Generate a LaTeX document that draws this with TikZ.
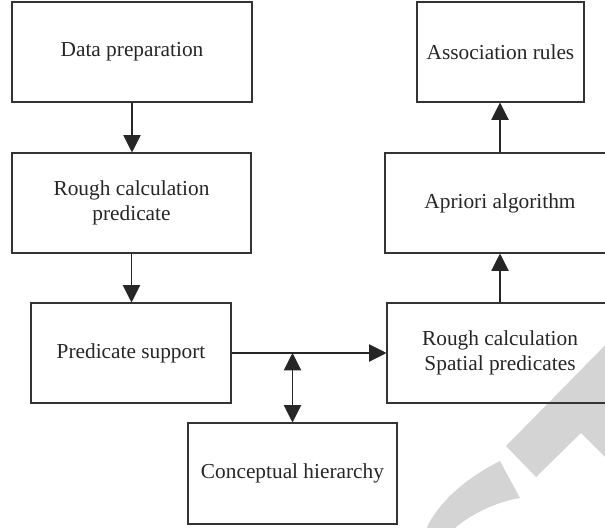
\documentclass[tikz,border=0pt]{standalone}
\usepackage{fontspec}
\setmainfont{Liberation Serif}
\usetikzlibrary{arrows.meta}
\begin{document}
\begin{tikzpicture}[x=0.75pt,y=-0.75pt,
  box/.style={draw=black!80, line width=0.8pt, align=center, text=black!85,
    font=\fontsize{16}{19}\selectfont, inner sep=0pt, minimum height=75pt},
  arr/.style={draw=black!85, line width=0.8pt, -{Triangle[length=13pt,width=13pt]}},
  dbl/.style={draw=black!85, line width=0.8pt, {Triangle[length=13pt,width=13pt]}-{Triangle[length=13pt,width=13pt]}},
  wm/.style={fill=black!17}]
\useasboundingbox (0,0) rectangle (605,527);
% watermark
\fill[wm] (630,320) -- (506,446) -- (536,477) -- (581,433) -- (630,482) -- cycle;
\fill[wm] (500,461) .. controls (472,475) and (442,497) .. (427,527) -- (427,545) -- (455,545) -- (455,528)
  .. controls (470,515) and (495,502) .. (520,498) -- cycle;
% boxes
\node[box, minimum width=180pt] (dp) at (132,52) {Data preparation};
\node[box, minimum width=179.25pt] (rcp) at (131.5,203) {Rough calculation\\predicate};
\node[box, minimum width=150pt] (ps) at (131,353) {Predicate support};
\node[box, minimum width=156.75pt, minimum height=75.75pt] (ch) at (292.5,473.5) {Conceptual hierarchy};
\node[box, minimum width=169.5pt] (rsp) at (500,353) {Rough calculation\\Spatial predicates};
\node[box, minimum width=172.5pt] (ap) at (500,203) {Apriori algorithm};
\node[box, minimum width=125.25pt] (ar) at (500.5,52) {Association rules};
% connectors
\draw[arr] (dp.south) -- (dp.south |- rcp.north);
\draw[arr] (rcp.south) -- (rcp.south |- ps.north);
\draw[arr] (ps.east) -- (rsp.west);
\draw[arr] (rsp.north) -- (rsp.north |- ap.south);
\draw[arr] (ap.north) -- (ap.north |- ar.south);
\coordinate (j) at (ch.north |- ps.east);
\draw[dbl] (j) -- (ch.north);
\end{tikzpicture}
\end{document}
